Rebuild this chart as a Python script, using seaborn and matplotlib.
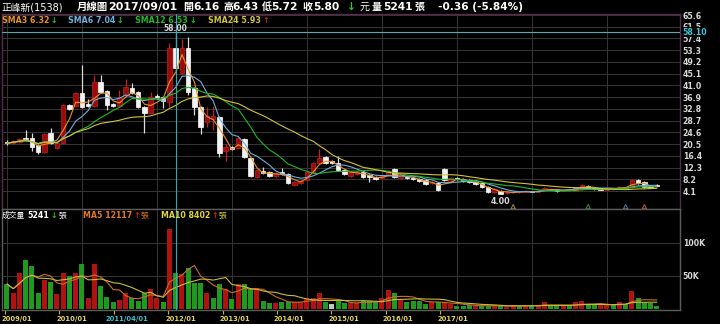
import numpy as np
import pandas as pd
import matplotlib
matplotlib.use("Agg")
import matplotlib.pyplot as plt
import matplotlib.transforms as mtransforms
import seaborn as sns

# ---------------- data (monthly, 2009/01 .. 2017/09) ----------------
start_month = "2009-01"
opens = [21.1, 20.9, 21.2, 22.7, 22.6, 20.2, 17.7, 24.4, 19.1, 20.9,
         34.2, 33.8, 38.4, 34.5, 33.8, 42.2, 39.0, 34.5, 33.8, 37.6,
         40.1, 38.7, 33.5, 31.4, 37.3, 37.0, 35.2, 54.1, 45.3, 54.1,
         40.0, 33.5, 28.2, 29.3, 30.0, 18.1, 19.5, 19.1, 22.3, 15.6,
         9.0, 11.1, 10.7, 9.3, 10.7, 10.0, 6.2, 6.9, 7.9, 10.7,
         13.9, 16.0, 14.6, 13.9, 11.4, 9.3, 10.0, 10.7, 9.7, 9.0,
         8.6, 9.7, 11.8, 8.6, 9.0, 8.6, 8.3, 7.9, 6.9, 6.9,
         11.8, 7.3, 8.6, 8.3, 7.9, 7.6, 6.9, 5.5, 3.8, 4.1,
         3.4, 3.6, 3.6, 3.8, 4.0, 3.8, 4.5, 4.5, 4.6, 4.1,
         4.6, 4.1, 4.8, 5.9, 4.9, 4.8, 4.6, 4.8, 5.2, 5.2,
         5.5, 7.9, 7.3, 5.9, 6.16]
highs = [21.8, 21.8, 22.6, 25.5, 24.4, 20.6, 24.4, 26.1, 21.3, 34.6,
         34.5, 38.7, 48.1, 36.2, 44.6, 44.6, 39.4, 34.9, 39.4, 43.2,
         41.8, 39.0, 33.8, 38.7, 38.0, 37.3, 55.8, 59.3, 57.2, 57.9,
         40.4, 33.8, 33.5, 33.8, 30.3, 20.5, 19.8, 23.0, 22.6, 15.9,
         11.8, 12.6, 11.0, 10.7, 12.3, 10.4, 7.6, 8.0, 11.1, 14.3,
         18.8, 16.3, 14.9, 16.3, 11.8, 11.1, 11.1, 11.1, 10.0, 9.3,
         9.7, 11.1, 12.3, 10.0, 9.3, 9.0, 8.6, 8.3, 7.6, 7.3,
         12.3, 9.0, 9.0, 8.6, 8.3, 7.9, 7.3, 5.9, 5.2, 4.5,
         3.9, 4.1, 4.0, 4.3, 4.2, 4.3, 5.5, 4.8, 4.8, 4.8,
         5.0, 5.5, 6.6, 6.2, 5.1, 5.0, 5.0, 5.2, 5.8, 5.5,
         8.3, 8.3, 7.6, 6.2, 6.43]
lows = [20.3, 20.6, 20.9, 21.9, 18.1, 17.2, 17.4, 20.5, 18.8, 20.5,
        32.4, 33.4, 33.1, 33.5, 33.4, 38.3, 32.4, 33.4, 33.4, 37.2,
        38.0, 33.1, 24.4, 31.0, 36.6, 33.1, 33.5, 46.4, 44.6, 37.7,
        30.7, 24.0, 26.5, 25.5, 16.0, 14.6, 18.5, 18.8, 15.6, 9.0,
        8.7, 10.1, 9.0, 9.0, 9.7, 6.5, 5.9, 6.5, 7.6, 10.4,
        13.5, 13.5, 13.5, 11.1, 9.7, 9.0, 9.7, 8.7, 7.3, 8.0,
        8.3, 9.3, 8.7, 8.3, 8.3, 8.0, 7.3, 6.2, 6.6, 4.1,
        7.6, 7.0, 8.0, 7.3, 7.0, 6.2, 5.2, 3.4, 3.4, 3.0,
        3.1, 3.4, 3.4, 3.6, 3.6, 3.6, 4.3, 4.3, 3.8, 4.0,
        4.4, 4.0, 4.6, 5.0, 4.6, 4.4, 4.4, 4.6, 5.0, 5.0,
        5.2, 6.6, 5.2, 5.0, 5.72]
closes = [20.8, 21.5, 22.2, 22.3, 19.5, 17.7, 24.0, 20.9, 20.9, 34.2,
          32.8, 38.4, 33.5, 33.8, 42.2, 38.7, 34.2, 33.8, 36.6, 40.4,
          38.4, 33.5, 31.4, 37.0, 36.9, 35.6, 54.1, 47.1, 54.1, 38.7,
          33.5, 26.5, 30.3, 30.3, 17.4, 19.5, 18.8, 22.6, 16.0, 9.3,
          11.4, 10.4, 9.3, 10.4, 10.0, 6.9, 7.3, 7.6, 10.7, 13.9,
          15.6, 13.9, 13.9, 11.4, 10.0, 10.7, 10.7, 9.0, 9.0, 8.3,
          9.3, 10.7, 9.0, 9.7, 8.6, 8.3, 7.6, 6.6, 7.3, 4.5,
          7.9, 8.6, 8.3, 7.6, 7.3, 6.6, 5.5, 3.8, 4.8, 3.1,
          3.6, 3.9, 3.8, 4.1, 3.8, 4.1, 5.2, 4.6, 4.1, 4.5,
          4.8, 5.2, 6.2, 5.2, 4.8, 4.6, 4.8, 5.0, 5.6, 5.3,
          7.9, 6.9, 5.5, 5.2, 5.80]
volumes = [37900, 23700, 55000, 74000, 65600, 24700, 43900, 40900, 22700, 55000,
           50000, 55000, 68200, 16200, 68200, 34800, 17700, 10100, 13600, 24700,
           16200, 12600, 24700, 29800, 17200, 11100, 120700, 55000, 52500, 61600,
           39900, 39900, 23700, 16200, 37900, 29800, 15200, 37400, 37900, 29800,
           31800, 12600, 9600, 9600, 11100, 11100, 10100, 10100, 16200, 16200,
           24700, 11100, 7600, 12600, 8600, 8600, 8600, 12100, 12100, 11100,
           17200, 28800, 23700, 14700, 11000, 12600, 12600, 7600, 10000, 10000,
           10000, 7000, 5000, 4500, 5500, 5500, 4500, 4500, 5000, 4500,
           3500, 6000, 5000, 5000, 5000, 5000, 10000, 5500, 5000, 4500,
           4500, 10000, 11500, 7000, 5500, 7000, 5500, 5500, 10000, 7000,
           27000, 16500, 9500, 9500, 5241]
# volume bar direction: u = up (red), d = down (green), n = flat (gray)
vol_dir = list("duuddduduu" "duduuddduu" "ddduududud" "dduddududd" "uddudduuuu"
               "udndduuddd" "uududdddud" "uuddduddud" "uududuuddu" "duudduudud"
               "udddd")

price_tick_values = [4.1, 8.2, 12.3, 16.4, 20.5, 24.6, 28.7, 32.8,
                     36.9, 41.0, 45.1, 49.2, 53.3, 57.4, 61.5, 65.6]
price_tick_labels = ["4.1", "8.2", "12.3", "16.4", "20.5", "24.6", "28.7", "32.8",
                     "36.9", "41.0", "45.1", "49.2", "53.3", "57.4", "61.5", "65.6"]
vol_tick_values = [50000, 100000]
vol_tick_labels = ["50K", "100K"]
date_labels = ["2009/01", "2010/01", "", "2012/01", "2013/01",
               "2014/01", "2015/01", "2016/01", "2017/01"]
cursor_idx = 27          # 2011/04
cursor_label = "2011/04/01"
cursor_price_label = "58.10"
max_label = "58.00"
min_label = "4.00"
event_idx = [81, 93, 99, 102]
event_colors = ["#a88a3a", "#2f9a3a", "#5a7fa0", "#c0603a"]

sma_periods = [3, 6, 12, 24]
sma_texts = ["SMA3 6.32", "SMA6 7.04", "SMA12 6.53", "SMA24 5.93"]
sma_arrows = ["↓", "↓", "↓", "↑"]
vol_ma_periods = [5, 10]

# ---------------- style ----------------
sns.set_theme(style="dark")
plt.rcParams["font.family"] = ["DejaVu Sans", "Noto Sans CJK TC"]
plt.rcParams["axes.unicode_minus"] = False

W, H = 720, 324
fig = plt.figure(figsize=(7.2, 3.24), dpi=100, facecolor="black")


def rect(x0, y0, x1, y1):
    return [x0 / W, 1 - y1 / H, (x1 - x0) / W, (y1 - y0) / H]


ax1 = fig.add_axes(rect(2, 14, 680, 209))
ax2 = fig.add_axes(rect(2, 209, 680, 310))
for ax in (ax1, ax2):
    ax.set_facecolor("black")
    ax.grid(False)
    ax.set_xlim(-0.8, 107.7)

n = len(closes)
idx = np.arange(n)
o = np.array(opens); h = np.array(highs); l = np.array(lows); c = np.array(closes)

GRID = "#363636"
for v in price_tick_values:
    ax1.axhline(v, color=GRID, lw=0.7, zorder=0)
for v in vol_tick_values:
    ax2.axhline(v, color=GRID, lw=0.7, zorder=0)
for i in range(0, n, 12):
    ax1.axvline(i, color=GRID, lw=0.7, zorder=0)
    ax2.axvline(i, color=GRID, lw=0.7, zorder=0)

# ---------------- candles ----------------
up = c > o
body_col = np.where(up, "#9a0c0c", "#f2f2f2")
edge_col = np.where(up, "#c81e1e", "#ffffff")
wick_col = np.where(up, "#c81e1e", "#dcdcdc")
ax1.vlines(idx, l, h, colors=wick_col, lw=0.9, zorder=3)
ax1.bar(idx, np.maximum(np.abs(c - o), 0.3), bottom=np.minimum(o, c), width=0.72,
        color=body_col, edgecolor=edge_col, linewidth=0.5, zorder=4)

sma_colors = ["#e8902a", "#6fb0dc", "#22b822", "#d2c23a"]
cs = pd.Series(c)
for p, col in zip(sma_periods, sma_colors):
    sns.lineplot(x=idx, y=cs.rolling(p, min_periods=1).mean().values, ax=ax1,
                 color=col, lw=0.8, zorder=5)

ax1.set_ylim(-2.18, 65.95)

# ---------------- volume ----------------
vdf = pd.DataFrame({"i": idx, "vol": volumes, "dir": vol_dir})
sns.barplot(data=vdf, x="i", y="vol", hue="dir", native_scale=True, dodge=False,
            palette={"u": "#b01212", "d": "#1f9a1f", "n": "#c4c4c4"},
            width=0.8, saturation=1, errorbar=None, legend=False, ax=ax2, zorder=3,
            linewidth=0)
vs = pd.Series(volumes, dtype=float)
for p, col in zip(vol_ma_periods, ["#c8702a", "#c8bc3a"]):
    sns.lineplot(x=idx, y=vs.rolling(p, min_periods=1).mean().values, ax=ax2,
                 color=col, lw=0.8, zorder=5)
ax2.set_ylim(-1515, 151500)
ax2.set_xlim(-0.8, 107.7)

# ---------------- axes cosmetics ----------------
for ax in (ax1, ax2):
    ax.set_xlabel("")
    ax.set_ylabel("")
    ax.yaxis.tick_right()
ax1.set_xticks([])
ax1.set_yticks(price_tick_values, labels=price_tick_labels)
ax2.set_yticks(vol_tick_values, labels=vol_tick_labels)
for ax in (ax1, ax2):
    ax.tick_params(axis="y", length=0, pad=2, labelsize=5.6, labelcolor="#d8d8d8")
    for t in ax.get_yticklabels():
        t.set_fontweight("bold")
for s in ax1.spines.values():
    s.set_color("#5a2a50"); s.set_linewidth(1.0); s.set_visible(True)
for s in ax2.spines.values():
    s.set_color("#5c5c5c"); s.set_linewidth(1.0); s.set_visible(True)

# compressed date axis as in the reference
date_month_idx = np.arange(0, 97, 12)
date_scale = 0.7253
date_pos = -0.32 + date_month_idx * date_scale
ax2.set_xticks(date_pos, labels=[""] * len(date_pos))
ax2.tick_params(axis="x", length=3, width=0.8, color="#c8b84a", pad=0, bottom=True)
off = mtransforms.offset_copy(ax2.transData, fig=fig, x=-3, y=0, units="dots")
blend = mtransforms.blended_transform_factory(off, fig.transFigure)
for pos, lab in zip(date_pos, date_labels):
    ax2.text(pos, 1 - 318.5 / H, lab, transform=blend, ha="left", va="center",
             fontsize=4.9, fontweight="bold", color="#e6d65a", clip_on=False)
cur_pos = -0.32 + cursor_idx * date_scale
blend_c = mtransforms.blended_transform_factory(ax2.transData, fig.transFigure)
ax2.text(cur_pos, 1 - 318.5 / H, cursor_label, transform=blend_c, ha="center",
         va="center", fontsize=4.9, fontweight="bold", color="#3cc0d0", clip_on=False)

# crosshair
CYAN = "#3aa6b2"
ax1.axvline(cursor_idx, color=CYAN, lw=0.8, zorder=6)
ax2.axvline(cursor_idx, color=CYAN, lw=0.8, zorder=6)
cross_y = 59.66
ax1.axhline(cross_y, color="#5aa8b0", lw=0.8, zorder=6)
bl_r = mtransforms.blended_transform_factory(ax1.transAxes, ax1.transData)
ax1.text(1.0 + 2 / 678, cross_y, cursor_price_label, transform=bl_r, ha="left",
         va="center", fontsize=5.6, fontweight="bold", color="#3cc8d8",
         bbox=dict(facecolor="black", edgecolor="none", pad=0.2), clip_on=False, zorder=10)

# max/min annotations
imax = int(np.argmax(h)); imin = int(np.argmin(l))
ax1.annotate(max_label, (imax, h[imax]), xytext=(0, 0), textcoords="offset points",
             ha="center", va="bottom", fontsize=5.5, fontweight="bold", color="#d8d8d8",
             zorder=9)
ax1.annotate(min_label, (imin, l[imin]), xytext=(0, -2), textcoords="offset points",
             ha="center", va="top", fontsize=5.8, fontweight="bold", color="#d8d8d8",
             zorder=9)

# event markers at the bottom of the price panel
bl_x = mtransforms.blended_transform_factory(ax1.transData, ax1.transAxes)
ax1.scatter(event_idx, [0.012] * len(event_idx), transform=bl_x, marker="^", s=10,
            facecolors="none", edgecolors=event_colors, linewidths=0.7, zorder=7,
            clip_on=False)

# ---------------- texts ----------------
def ftext(px, py, s, color="white", size=8, weight="bold"):
    return fig.text(px / W, 1 - py / H, s, color=color, fontsize=size, fontweight=weight,
                    ha="left", va="center")


def after(prev, s, color="white", size=6, weight="bold", gap=1.5):
    a = mtransforms  # noqa
    ann = plt.matplotlib.text.Annotation(s, xy=(1, 0.5), xycoords=prev, xytext=(gap, 0),
                                         textcoords="offset pixels", ha="left", va="center",
                                         color=color, fontsize=size, fontweight=weight,
                                         annotation_clip=False)
    fig.add_artist(ann)
    return ann


GREEN_ARROW = "#22cc22"
RED_ARROW = "#e02020"

# header
ftext(2, 7, "正峰新(1538)", size=7, weight="normal")
ftext(77, 7, "月線圖", size=7.5)
ftext(108, 7, "2017/09/01", size=7.9)
for px_c, ch, px_n, num in [(183, "開", 193, "6.16"), (223, "高", 232, "6.43"),
                            (262, "低", 271, "5.72"), (303, "收", 313, "5.80")]:
    ftext(px_c, 7, ch, size=7.2)
    ftext(px_n, 7, num, size=7.7)
ftext(347, 7, "↓", color=GREEN_ARROW, size=7.7)
ftext(360, 7, "元", size=7.2, weight="normal")
ftext(372, 7, "量", size=7.2)
ftext(383, 7, "5241", size=7.7)
ftext(414, 7, "張", size=7.2)
ftext(438, 7, "-0.36 (-5.84%)", size=7.6)

# SMA legend
sma_x = [2, 68, 135, 208]
for sx, txt, arr, col in zip(sma_x, sma_texts, sma_arrows, sma_colors):
    t = ftext(sx, 20.5, txt, color=col, size=5.7)
    after(t, arr, color=GREEN_ARROW if arr == "↓" else RED_ARROW, size=5.7, gap=1.5)

# volume legend
t = ftext(2, 215.5, "成交量", size=5.6, weight="normal")
t = after(t, "5241", size=5.7, gap=2.5)
t = after(t, "↓", color=GREEN_ARROW, size=5.7, gap=1)
after(t, "張", size=5.6, weight="normal", gap=1)
t = ftext(83, 215.5, "MA5 12117", color="#e0782a", size=5.7)
t = after(t, "↑", color=RED_ARROW, size=5.7, gap=1)
after(t, "張", color="#e0782a", size=5.6, weight="normal", gap=1)
t = ftext(161, 215.5, "MA10 8402", color="#e0d43a", size=5.7)
t = after(t, "↑", color=RED_ARROW, size=5.7, gap=1)
after(t, "張", color="#e0d43a", size=5.6, weight="normal", gap=1)

fig.savefig("out.png", dpi=100, facecolor="black")
